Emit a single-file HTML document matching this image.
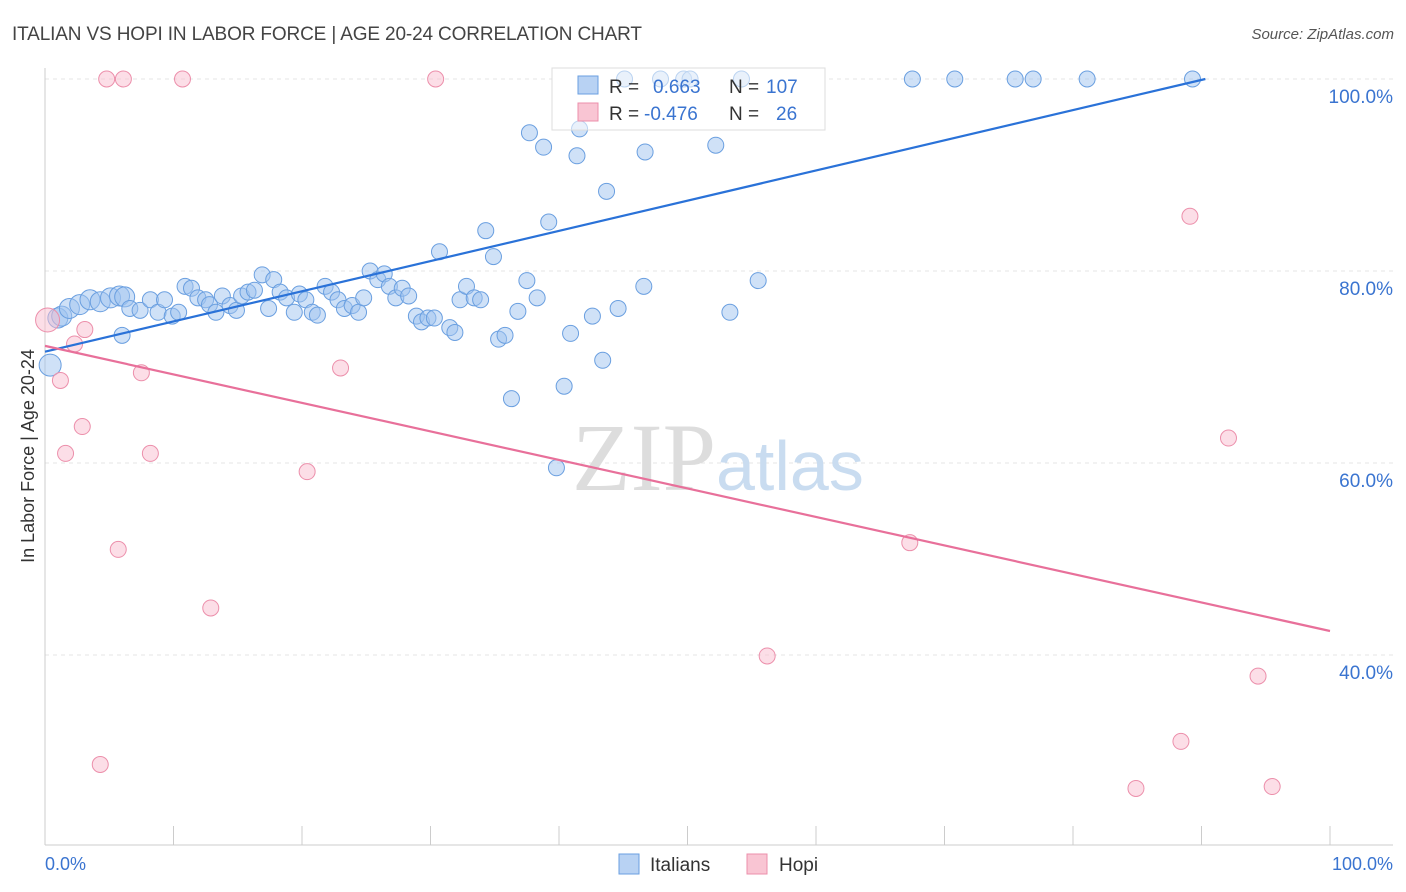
<!DOCTYPE html>
<html><head><meta charset="utf-8"><style>
body{margin:0;background:#fff;font-family:"Liberation Sans",sans-serif}
svg{display:block}
</style></head><body>
<svg id="chart" width="1406" height="892" xmlns="http://www.w3.org/2000/svg">
<text x="12" y="40" font-size="19" fill="#444" textLength="630">ITALIAN VS HOPI IN LABOR FORCE | AGE 20-24 CORRELATION CHART</text>
<text x="1394" y="39" font-size="15" fill="#555" font-style="italic" text-anchor="end">Source: ZipAtlas.com</text>
<g id="grid"></g>
<text x="716" y="490" font-size="96" font-family="Liberation Serif" fill="#ddd" text-anchor="end">ZIP</text>
<text x="716" y="490" font-size="70" fill="#c9dcf0">atlas</text>
<g>
<rect x="552" y="68" width="273" height="62" fill="#fff" stroke="#ddd"/>
</g>
<g id="marks"></g>
<g>
<rect x="552" y="68" width="273" height="62" fill="#fff" fill-opacity="0.55" stroke="#ddd"/>
<rect x="578" y="76" width="20" height="18" fill="#b8d2f3" stroke="#6a9fe0"/>
<text x="609" y="93" font-size="19" fill="#333">R =</text>
<text x="653" y="93" font-size="19" fill="#3a74d0">0.663</text>
<text x="729" y="93" font-size="19" fill="#333">N =</text>
<text x="766" y="93" font-size="19" fill="#3a74d0">107</text>
<rect x="578" y="103" width="20" height="18" fill="#f9c5d3" stroke="#ec8fab"/>
<text x="609" y="120" font-size="19" fill="#333">R =</text>
<text x="644" y="120" font-size="19" fill="#3a74d0">-0.476</text>
<text x="729" y="120" font-size="19" fill="#333">N =</text>
<text x="776" y="120" font-size="19" fill="#3a74d0">26</text>
</g>
<text x="34" y="456" font-size="18" fill="#333" text-anchor="middle" transform="rotate(-90 34 456)">In Labor Force | Age 20-24</text>
<text x="45" y="870" font-size="18" fill="#3a74d0">0.0%</text>
<text x="1393" y="870" font-size="18" fill="#3a74d0" text-anchor="end">100.0%</text>
<g>
<rect x="619" y="854" width="20" height="20" fill="#b8d2f3" stroke="#6a9fe0"/>
<text x="650" y="871" font-size="19" fill="#333">Italians</text>
<rect x="747" y="854" width="20" height="20" fill="#f9c5d3" stroke="#ec8fab"/>
<text x="779" y="871" font-size="19" fill="#333">Hopi</text>
</g>
</svg>
<script>
const yTicks=[40,60,80,100];
const yTickLabels=["40.0%","60.0%","80.0%","100.0%"];
const xTicks=[0,10,20,30,40,50,60,70,80,90,100];
const italiansX=[0.4,1.0,1.3,1.9,2.7,3.5,4.3,5.1,5.8,6.2,6.0,6.6,7.4,8.2,8.8,9.3,9.9,10.4,10.9,11.4,11.9,12.5,12.8,13.3,13.8,14.4,14.9,15.3,15.8,16.3,16.9,17.4,17.8,18.3,18.8,19.4,19.8,20.3,20.8,21.2,21.8,22.3,22.8,23.3,23.9,24.4,24.8,25.3,25.9,26.4,26.8,27.3,27.8,28.3,28.9,29.3,29.8,30.3,30.7,31.5,31.9,32.3,32.8,33.4,33.9,34.3,34.9,35.3,35.8,36.3,36.8,37.5,37.7,38.3,38.8,39.2,39.8,40.4,40.9,41.4,41.6,42.6,43.4,43.7,44.6,45.1,46.6,46.7,47.9,49.7,50.2,52.2,53.3,54.2,55.5,67.5,70.8,75.5,76.9,81.1,89.3];
const italiansY=[70.2,75.1,75.3,76.1,76.5,77.0,76.8,77.2,77.4,77.3,73.3,76.1,75.9,77.0,75.7,77.0,75.3,75.7,78.4,78.2,77.2,77.0,76.5,75.7,77.4,76.4,75.9,77.4,77.8,78.0,79.6,76.1,79.1,77.8,77.2,75.7,77.6,77.0,75.7,75.4,78.4,77.8,77.0,76.1,76.4,75.7,77.2,80.0,79.1,79.7,78.4,77.2,78.2,77.4,75.3,74.7,75.1,75.1,82.0,74.1,73.6,77.0,78.4,77.2,77.0,84.2,81.5,72.9,73.3,66.7,75.8,79.0,94.4,77.2,92.9,85.1,59.5,68.0,73.5,92.0,94.8,75.3,70.7,88.3,76.1,100,78.4,92.4,100,100,100,93.1,75.7,100,79.0,100,100,100,100,100,100];
const hopiX=[0.2,1.2,1.6,2.3,2.9,3.1,4.3,4.8,5.7,6.1,7.5,8.2,10.7,12.9,20.4,23.0,30.4,56.2,67.3,84.9,88.4,89.1,92.1,94.4,95.5];
const hopiY=[74.9,68.6,61.0,72.4,63.8,73.9,28.6,100,51.0,100,69.4,61.0,100,44.9,59.1,69.9,100,39.9,51.7,26.1,31.0,85.7,62.6,37.8,26.3];
const italiansFit=[[0,71.6],[90.3,100]];
const hopiFit=[[0,72.2],[100,42.5]];
const X=v=>45+v*12.85, Y=v=>79+(100-v)*9.6;
const NS="http://www.w3.org/2000/svg";
const grid=document.getElementById('grid'), marks=document.getElementById('marks');
function mk(tag,attrs,parent){const e=document.createElementNS(NS,tag);for(const k in attrs)e.setAttribute(k,attrs[k]);parent.appendChild(e);return e;}
yTicks.forEach((t,i)=>{
  const l=mk('line',{x1:45,x2:1393,y1:Y(t),y2:Y(t),stroke:'#e4e4e4','stroke-dasharray':'4,4'},grid);
  
  
  const tx=mk('text',{x:1393,y:Y(t)+24,'font-size':19,fill:'#3a74d0','text-anchor':'end'},grid);
  tx.textContent=yTickLabels[i];
  
  
});
const ax=mk('line',{x1:45,x2:1393,y1:845,y2:845,stroke:'#ccc'},grid);


const ay=mk('line',{x1:45,x2:45,y1:68,y2:845,stroke:'#ccc'},grid);


xTicks.forEach(t=>{
  const l=mk('line',{x1:X(t),x2:X(t),y1:826,y2:845,stroke:'#ccc'},grid);
  
  
});
italiansX.forEach((x,i)=>{
  const r=i<10?(i===0?11:10):8;
  const c=mk('circle',{cx:X(x),cy:Y(italiansY[i]),r:r,fill:'rgba(160,196,240,0.5)',stroke:'#6a9fe0','stroke-width':1},marks);
  
  
});
hopiX.forEach((x,i)=>{
  const r=i===0?12:8;
  const c=mk('circle',{cx:X(x),cy:Y(hopiY[i]),r:r,fill:'rgba(249,190,208,0.5)',stroke:'#ec8fab','stroke-width':1},marks);
  
  
});
const l1=mk('line',{x1:X(italiansFit[0][0]),y1:Y(italiansFit[0][1]),x2:X(italiansFit[1][0]),y2:Y(italiansFit[1][1]),stroke:'#2a72d8','stroke-width':2.2},marks);


const l2=mk('line',{x1:X(hopiFit[0][0]),y1:Y(hopiFit[0][1]),x2:X(hopiFit[1][0]),y2:Y(hopiFit[1][1]),stroke:'#e8709a','stroke-width':2.2},marks);


</script>
</body></html>
